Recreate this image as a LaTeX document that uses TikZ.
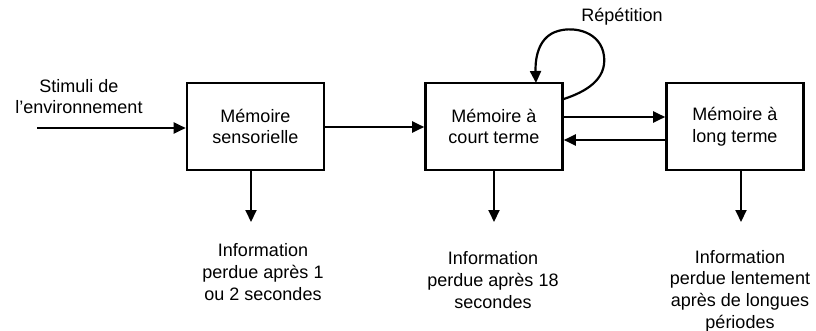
\documentclass[tikz,border=0pt]{standalone}
\usepackage{fontspec}
\setmainfont{Liberation Sans}
\usetikzlibrary{arrows.meta}
\begin{document}
\begin{tikzpicture}[x=1pt,y=-1pt,
  every node/.style={font=\fontsize{18}{21.7}\selectfont, align=center, inner sep=0pt},
  membox/.style={draw, line width=2.6pt, minimum width=137pt, minimum height=87pt},
  arr/.style={line width=2pt, -{Triangle[length=12pt,width=11pt]}},
  lbl/.style={}]
  \useasboundingbox (0,0) rectangle (816,331);

  % memory stores
  \node[membox] (sens) at (255.5,126.5) {Mémoire\\sensorielle};
  \node[membox] (court) at (494,126.5) {Mémoire à\\court terme};
  \node[membox] (long) at (735,126.5) {Mémoire à\\long terme};

  % texts
  \node[lbl] (stim) at (79,96.5) {Stimuli de\\l’environnement};
  \node[lbl] (rep) at (622,17) {Répétition};
  \node[lbl] (p1) at (263,272) {Information\\perdue après 1\\ou 2 secondes};
  \node[lbl] (p2) at (493,280) {Information\\perdue après 18\\secondes};
  \node[lbl] (p3) at (740,291) {Information\\perdue lentement\\après de longues\\périodes};

  % free ends
  \coordinate (src) at (37,128);
  \coordinate (e1) at (251,222);
  \coordinate (e2) at (494,222);
  \coordinate (e3) at (741,222);

  % flow between stores
  \draw[arr] (src) -- (src -| sens.west);
  \draw[arr] (sens.east |- 0,127) -- (court.west |- 0,127);
  \draw[arr] (court.east |- 0,117) -- (long.west |- 0,117);
  \draw[arr] (long.west |- 0,140) -- (court.east |- 0,140);

  % rehearsal loop
  \draw[line width=2.2pt, -{Triangle[length=12pt,width=11pt]}]
    (court.north east |- 0,99)
      .. controls (585,92) and (607,80) .. (604,56)
      .. controls (601,32) and (575,26) .. (558,31)
      .. controls (540,36) and (535,55) .. (536,83);

  % loss of information
  \draw[arr] (e1 |- sens.south) -- (e1);
  \draw[arr] (e2 |- court.south) -- (e2);
  \draw[arr] (e3 |- long.south) -- (e3);
\end{tikzpicture}
\end{document}
